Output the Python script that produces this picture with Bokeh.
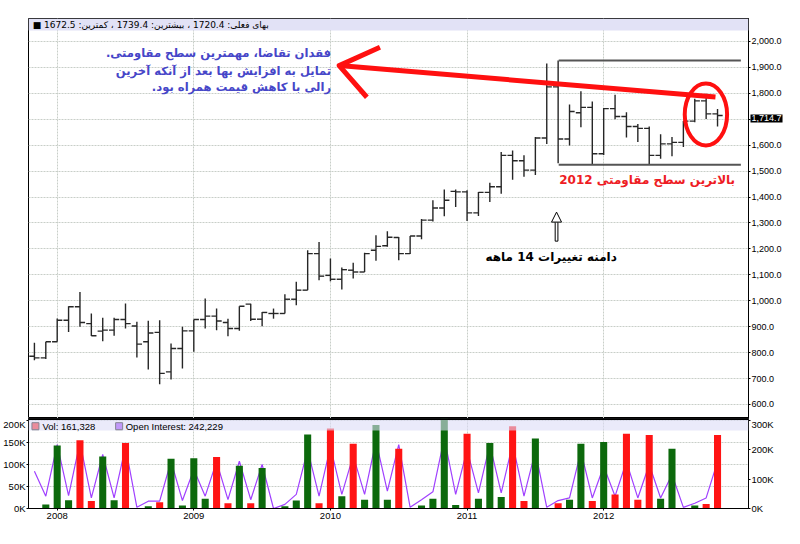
import numpy as np
import pandas as pd
from bokeh.plotting import figure
from bokeh.layouts import column
from bokeh.models import (Range1d, LinearAxis, FixedTicker, NumeralTickFormatter,
                          CustomJSTickFormatter, Label, Span, BoxAnnotation, Arrow,
                          NormalHead, ColumnDataSource)
from bokeh.embed import file_html
from bokeh.resources import INLINE

# ---------------- data ----------------
months = [str(p) for p in pd.period_range("2007-11", "2012-11", freq="M")]

opens = [786, 780, 842, 925, 977, 912, 883, 887, 928, 903, 842, 878, 726, 816, 884,
         928, 941, 916, 893, 987, 929, 951, 951, 1006, 1041, 1182, 1098, 1083, 1118, 1111,
         1195, 1212, 1244, 1182, 1250, 1311, 1358, 1422, 1420, 1339, 1418, 1440, 1561, 1540, 1504,
         1628, 1825, 1624, 1725, 1746, 1567, 1741, 1711, 1672, 1665, 1561, 1605, 1611, 1693, 1771,
         1721]
highs = [838, 842, 932, 979, 1034, 951, 935, 935, 990, 919, 923, 925, 835, 900, 928,
         1009, 970, 931, 979, 989, 957, 970, 1025, 1073, 1195, 1227, 1163, 1128, 1147, 1185,
         1253, 1268, 1246, 1250, 1315, 1388, 1429, 1429, 1426, 1420, 1455, 1574, 1580, 1561, 1632,
         1915, 1927, 1757, 1808, 1769, 1744, 1795, 1727, 1682, 1672, 1642, 1632, 1693, 1779, 1798,
         1739.4]
lows = [771, 775, 842, 880, 900, 864, 844, 865, 893, 781, 735, 678, 696, 739, 803,
        893, 886, 863, 884, 922, 902, 931, 951, 983, 1041, 1079, 1075, 1044, 1086, 1111,
        1154, 1208, 1156, 1180, 1237, 1306, 1326, 1362, 1308, 1327, 1381, 1413, 1467, 1478, 1485,
        1605, 1530, 1599, 1669, 1526, 1562, 1700, 1630, 1612, 1525, 1548, 1557, 1593, 1689, 1701,
        1672.5]
closes = [780, 842, 925, 977, 916, 865, 887, 928, 912, 833, 876, 720, 816, 884, 928,
          941, 922, 893, 979, 929, 955, 951, 1006, 1041, 1182, 1095, 1083, 1120, 1111, 1182,
          1210, 1245, 1182, 1250, 1311, 1358, 1388, 1420, 1339, 1418, 1440, 1561, 1540, 1504, 1628,
          1825, 1624, 1730, 1746, 1567, 1741, 1711, 1672, 1665, 1561, 1605, 1611, 1693, 1771, 1721,
          1714.7]

volume_k = [0, 9, 143, 19, 155, 17, 118, 19, 149, 0, 5, 14, 113, 7, 114, 22, 117, 12, 97, 12,
            92, 0, 5, 18, 168, 12, 182, 28, 147, 20, 190, 20, 136, 0, 7, 22, 210, 8, 170, 22,
            149, 26, 187, 17, 159, 1, 12, 20, 147, 17, 151, 32, 170, 20, 167, 22, 136, 1, 7, 10,
            167]
volume_side = ["G", "G", "G", "G", "R", "R", "G", "G", "R", "G", "G", "R", "G", "G", "G", "G",
               "R", "R", "G", "R", "G", "G", "G", "G", "G", "R", "R", "G", "R", "G", "G", "G",
               "R", "G", "G", "G", "G", "G", "R", "G", "G", "G", "R", "R", "G", "G", "R", "G",
               "G", "R", "G", "R", "R", "R", "R", "G", "G", "G", "G", "R", "R"]
open_interest_k = [127, 42, 218, 44, 225, 36, 184, 36, 210, 4, 25, 25, 161, 27, 133, 42, 160, 30,
                   161, 30, 150, 0, 14, 48, 200, 42, 210, 48, 180, 48, 230, 59, 218, 4, 30, 57,
                   240, 48, 200, 53, 218, 53, 220, 42, 195, 4, 27, 36, 195, 36, 144, 42, 160, 36,
                   150, 36, 116, 4, 18, 36, 160]

price_ticks = list(range(600, 2001, 100))
vol_ticks_k = [0, 50, 100, 150, 200]
oi_ticks_k = [0, 100, 200, 300]

header_text = "■ بهای فعلی: 1720.4 ، بیشترین: 1739.4 ، کمترین: 1672.5"
vol_legend = "Vol: 161,328"
oi_legend = "Open Interest: 242,229"
note_blue = ["فقدان تقاضا، مهمترین سطح مقاومتی.\u200f",
             "تمایل به افزایش بها بعد از آنکه آخرین",
             "رالی با کاهش قیمت همراه بود.\u200f"]
note_red = "بالاترین سطح مقاومتی 2012"
note_black = "دامنه تغییرات 14 ماهه"

# ---------------- derived ----------------
idx = np.arange(len(months))
year_idx = [i for i, m in enumerate(months) if m.endswith("-01")]
year_lbl = {i: months[i][:4] for i in year_idx}
TICK = 0.45
hidden_tick = int(round(closes[-1], -2))   # axis label covered by the last-price tag

src = ColumnDataSource(dict(
    x=idx, o=opens, h=highs, l=lows, c=closes,
    xl=idx - TICK, xr=idx + TICK,
))
vsrc = ColumnDataSource(dict(
    x=idx, v=np.array(volume_k) * 1000, oi=np.array(open_interest_k) * 1000,
    col=["#ff1414" if s == "R" else "#0c690c" for s in volume_side],
))

AXF = "Liberation Sans"
PF = "DejaVu Sans"
GRID = "#c8cec8"
LB, RB = 26, 33

x_rng = Range1d(-0.52, 62.72)

# ---------------- price panel ----------------
p = figure(width=784, height=418, x_range=x_rng, y_range=Range1d(546, 2088.7),
           x_axis_location=None, y_axis_location="right", toolbar_location=None,
           output_backend="svg", min_border_left=LB, min_border_right=RB,
           min_border_top=18, min_border_bottom=0, outline_line_color="black",
           outline_line_width=1, background_fill_color="white", border_fill_color="white")
p.yaxis.ticker = FixedTicker(ticks=price_ticks)
p.yaxis.formatter = NumeralTickFormatter(format="0,0.0")
p.yaxis.major_label_overrides = {hidden_tick: ""}
p.yaxis.major_label_text_font = AXF
p.yaxis.major_label_text_font_size = "9px"
p.yaxis.major_label_text_color = "black"
p.yaxis.minor_tick_line_color = None
p.yaxis.major_tick_out = 2
p.yaxis.major_tick_in = 0
p.yaxis.major_label_standoff = 1
p.yaxis.axis_line_color = "black"
p.xgrid.ticker = FixedTicker(ticks=year_idx)
p.grid.grid_line_color = GRID
p.grid.grid_line_dash = "2 1"

p.segment(x0="x", y0="l", x1="x", y1="h", source=src, line_color="#262626", line_width=1.4)
p.segment(x0="xl", y0="o", x1="x", y1="o", source=src, line_color="#262626", line_width=1.4)
p.segment(x0="x", y0="c", x1="xr", y1="c", source=src, line_color="#262626", line_width=1.4)

# range box of 14 months
p.segment(x0=[46.05, 46.05], y0=[1927, 1525], x1=[62.05, 62.05], y1=[1927, 1525],
          line_color="#555555", line_width=2)

# red arrow and ellipse
p.line(x=[26.77, 59.82], y=[1907, 1786], line_color="#ff1010", line_width=5)
p.line(x=[30.35, 26.77, 29.2], y=[1978, 1907, 1785], line_color="#ff1010", line_width=5,
       line_join="round")
p.ellipse(x=[58.98], y=[1718.5], width=3.72, height=239, fill_color=None,
          line_color="#ff1010", line_width=4)

# hollow up arrow
p.segment(x0=[45.74, 45.98], y0=[1230, 1230], x1=[45.74, 45.98], y1=[1302, 1302],
          line_color="black", line_width=1)
p.segment(x0=[45.74], y0=[1230], x1=[45.98], y1=[1230], line_color="black", line_width=1)
p.add_layout(Arrow(x_start=45.86, y_start=1300, x_end=45.86, y_end=1342,
                   line_alpha=0, line_width=0,
                   end=NormalHead(size=10, fill_color="white", line_color="black", line_width=1)))

for txt, yy in zip(note_blue, [1955, 1888, 1826]):
    p.add_layout(Label(x=26.06, y=yy, text=txt, text_align="right", text_baseline="middle",
                       text_font=PF, text_font_style="bold", text_font_size="11.6px",
                       text_color="#4646c8"))
p.add_layout(Label(x=61.54, y=1464, text=note_red, text_align="right", text_baseline="middle",
                   text_font=PF, text_font_style="bold", text_font_size="12px",
                   text_color="#ee1c24"))
p.add_layout(Label(x=45.39, y=1168, text=note_black, text_align="center", text_baseline="middle",
                   text_font=PF, text_font_style="bold", text_font_size="12px",
                   text_color="black"))

# header band
p.add_layout(BoxAnnotation(bottom=2042.4, fill_color="#e2e2f6", fill_alpha=1.0, line_color=None))
p.add_layout(Label(x=-0.15, y=2063.6, text=header_text, text_align="left", text_baseline="middle",
                   text_font=PF, text_font_size="9px", text_color="black"))

# last price tag: put in the (spare) top side panel so it is drawn outside the frame
p.add_layout(Label(x=62.72, y=closes[-1], x_offset=2, y_offset=-3, text=f"{closes[-1]:,.1f}",
                   text_align="left", text_baseline="middle", text_font=AXF,
                   text_font_size="9px", text_color="white", background_fill_color="black",
                   background_fill_alpha=1.0, padding=1), "above")

# ---------------- volume panel ----------------
v = figure(width=784, height=110, x_range=x_rng, y_range=Range1d(0, 204500),
           toolbar_location=None, output_backend="svg", min_border_left=LB,
           min_border_right=RB, min_border_top=0, min_border_bottom=20,
           outline_line_color="black", background_fill_color="white",
           border_fill_color="white")
v.extra_y_ranges = {"oi": Range1d(0, 306750)}
oi_axis = LinearAxis(y_range_name="oi", ticker=FixedTicker(ticks=[t * 1000 for t in oi_ticks_k]),
                     formatter=CustomJSTickFormatter(code="return (tick/1000).toFixed(0) + 'K';"))
v.add_layout(oi_axis, "right")
v.yaxis[0].ticker = FixedTicker(ticks=[t * 1000 for t in vol_ticks_k])
v.yaxis[0].formatter = CustomJSTickFormatter(code="return (tick/1000).toFixed(0) + 'K';")
v.xaxis.ticker = FixedTicker(ticks=year_idx)
v.xaxis.major_label_overrides = year_lbl
for ax in v.yaxis + v.xaxis:
    ax.major_label_text_font = AXF
    ax.major_label_text_font_size = "9.5px"
    ax.major_label_text_color = "black"
    ax.minor_tick_line_color = None
    ax.major_tick_out = 2
    ax.major_tick_in = 0
    ax.major_label_standoff = 1
    ax.axis_line_color = "black"
v.xaxis.major_label_standoff = 2
v.xgrid.ticker = FixedTicker(ticks=year_idx)
v.grid.grid_line_color = GRID
v.grid.grid_line_dash = "2 1"

v.line(x="x", y="oi", source=vsrc, y_range_name="oi", line_color="#a040ff", line_width=1.2)
v.vbar(x="x", top="v", width=0.62, source=vsrc, fill_color="col", line_color=None)

v.add_layout(BoxAnnotation(bottom=177400, fill_color="#dcdcf6", fill_alpha=0.6, line_color=None))
v.add_layout(Span(location=204500, dimension="width", line_color="black", line_width=3))
v.scatter(x=[0.09, 7.44], y=[187000, 187000], marker="square", size=7,
          fill_color=["#ff1414", "#9933ff"], line_color="black", line_width=1)
v.add_layout(Label(x=0.71, y=187000, text=vol_legend, text_align="left", text_baseline="middle",
                   text_font=AXF, text_font_size="9.5px", text_color="black"))
v.add_layout(Label(x=8.02, y=187000, text=oi_legend, text_align="left", text_baseline="middle",
                   text_font=AXF, text_font_size="9.5px", text_color="black"))

layout = column(p, v, spacing=0)
open("out.html", "w").write(file_html(layout, INLINE))
